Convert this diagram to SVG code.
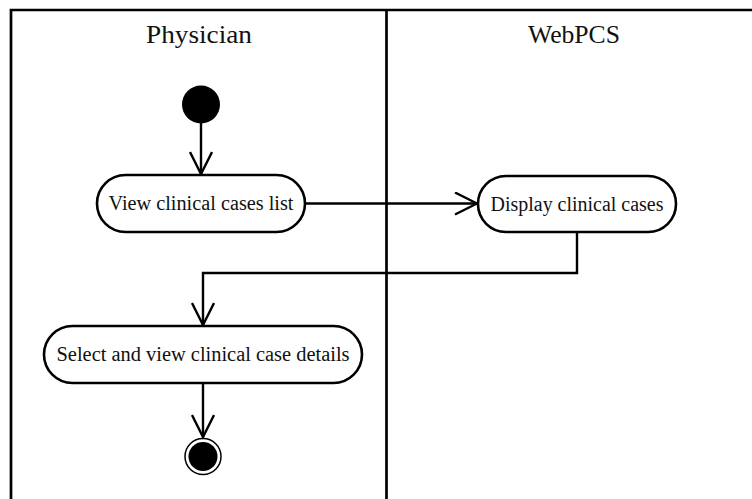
<svg xmlns="http://www.w3.org/2000/svg" width="752" height="499" viewBox="0 0 752 499">
  <style>
    .lane { fill: none; stroke: #000; stroke-width: 2.7; }
    .action { fill: #fff; stroke: #000; stroke-width: 2.6; }
    .flow { fill: none; stroke: #000; stroke-width: 2.4; }
    .label { font-family: "Liberation Serif", "DejaVu Serif", serif; font-size: 20.5px; fill: #111; text-anchor: middle; }
    .head { font-family: "Liberation Serif", "DejaVu Serif", serif; font-size: 25px; fill: #111; text-anchor: middle; }
  </style>
  <defs>
    <marker id="open-arrow" viewBox="-24 -12 26 24" refX="0" refY="0" markerWidth="26" markerHeight="24" markerUnits="userSpaceOnUse" orient="auto">
      <path d="M-22,-11 L0,0 L-22,11" fill="none" stroke="#000" stroke-width="2.4"/>
    </marker>
  </defs>

  <!-- swimlanes -->
  <g id="lanes">
    <path class="lane" d="M11,499 V10 H760"/>
    <line class="lane" x1="386.5" y1="10" x2="386.5" y2="499"/>
    <text class="head" x="199" y="43" textLength="106" lengthAdjust="spacingAndGlyphs">Physician</text>
    <text class="head" x="574" y="43" textLength="92" lengthAdjust="spacingAndGlyphs">WebPCS</text>
  </g>

  <!-- control flows -->
  <g id="connectors">
    <path class="flow" d="M201,123 V174" marker-end="url(#open-arrow)"/>
    <path class="flow" d="M305,203.5 H477" marker-end="url(#open-arrow)"/>
    <path class="flow" d="M577,232 V273 H203 V325" marker-end="url(#open-arrow)"/>
    <path class="flow" d="M203,383 V437" marker-end="url(#open-arrow)"/>
  </g>

  <g id="start">
    <circle cx="201" cy="104.5" r="19" fill="#000"/>
  </g>

  <g id="view-list">
    <rect class="action" x="97" y="175" width="208" height="57" rx="28.5"/>
    <text class="label" x="201" y="210" textLength="185" lengthAdjust="spacingAndGlyphs">View clinical cases list</text>
  </g>

  <g id="display-cases">
    <rect class="action" x="478" y="176" width="198" height="56" rx="28"/>
    <text class="label" x="577" y="211" textLength="173" lengthAdjust="spacingAndGlyphs">Display clinical cases</text>
  </g>

  <g id="select-details">
    <rect class="action" x="44" y="326" width="318" height="57" rx="28.5"/>
    <text class="label" x="203" y="361" textLength="293" lengthAdjust="spacingAndGlyphs">Select and view clinical case details</text>
  </g>

  <g id="end">
    <circle cx="203" cy="456.5" r="18" fill="#fff" stroke="#000" stroke-width="1.5"/>
    <circle cx="203" cy="456.5" r="14.5" fill="#000"/>
  </g>
</svg>
